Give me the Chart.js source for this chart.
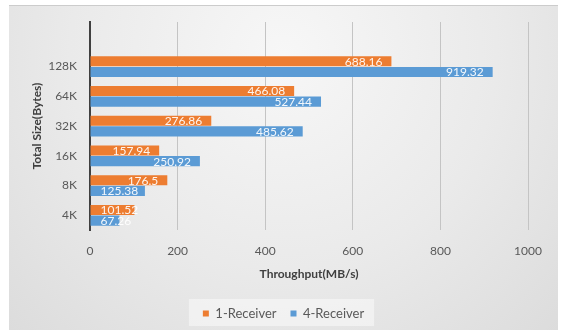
<!DOCTYPE html>
<html>
<head>
<meta charset="utf-8">
<script src="https://cdn.jsdelivr.net/npm/chart.js@4"></script>
<style>
  body { margin: 0; background: #fff; }
  #frame {
    position: absolute; left: 9px; top: 5px; width: 549px; height: 325px;
    background: radial-gradient(ellipse at 50% 15%, #f7f7f7 0%, #eaeaea 55%, #dcdcdc 100%);
    border-top: 1px solid #cccccc;
    box-sizing: border-box;
  }
  canvas { display: block; }
</style>
</head>
<body>
<div id="frame"><canvas id="chart" width="549" height="324"></canvas></div>
<script>
// Chart data

const sizes = ['128K', '64K', '32K', '16K', '8K', '4K'];
const oneReceiver = [688.16, 466.08, 276.86, 157.94, 176.5, 101.52];
const fourReceiver = [919.32, 527.44, 485.62, 250.92, 125.38, 67.26];
const xTicks = [0, 200, 400, 600, 800, 1000];

const orange = '#ED7D31';
const blue = '#5B9BD5';
const textGrey = '#595959';

// blank row on top, like the empty slot in the picture
const labels = [''].concat(sizes);

// Plugin that writes the value at the end of each bar

const valueLabels = {
    id: 'valueLabels',
    afterDatasetsDraw(chart) {
        const ctx = chart.ctx;
        ctx.save();
        ctx.font = '12px Lato';
        ctx.fillStyle = 'rgba(255,255,255,0.92)';
        ctx.textBaseline = 'middle';
        ctx.textAlign = 'left';
        chart.data.datasets.forEach((ds, i) => {
            chart.getDatasetMeta(i).data.forEach((bar, j) => {
                const v = ds.data[j];
                if (v == null) return;
                const txt = String(v);
                const w = ctx.measureText(txt).width;
                let start = bar.x - 9 - w;
                if (start < bar.base + 10) start = bar.base + 10;
                ctx.fillText(txt, start, bar.y + 0.5);
            });
        });
        ctx.restore();
    }
};

// Plugin for the light box behind the legend

const legendBox = {
    id: 'legendBox',
    beforeDraw(chart) {
        const boxes = chart.legend && chart.legend.legendHitBoxes;
        if (!boxes || !boxes.length) return;
        const first = boxes[0];
        const last = boxes[boxes.length - 1];
        const ctx = chart.ctx;
        ctx.save();
        ctx.fillStyle = 'rgba(255,255,255,0.45)';
        ctx.fillRect(first.left - 14, first.top - 8, last.left + last.width - first.left + 24, first.height + 14);
        ctx.restore();
    }
};

const myChart = new Chart(document.getElementById('chart'), {
    type: 'bar',
    data: {
        labels: labels,
        datasets: [{
            label: '1-Receiver',
            data: [null].concat(oneReceiver),
            backgroundColor: orange,
            categoryPercentage: 0.72,
            barPercentage: 0.95
        }, {
            label: '4-Receiver',
            data: [null].concat(fourReceiver),
            backgroundColor: blue,
            categoryPercentage: 0.72,
            barPercentage: 0.95
        }]
    },
    options: {
        indexAxis: 'y',
        responsive: false,
        animation: false,
        events: [],
        layout: {
            padding: { left: 0, right: 0, top: 16, bottom: 0 }
        },
        plugins: {
            tooltip: { enabled: false },
            legend: {
                position: 'bottom',
                labels: {
                    color: textGrey,
                    font: { family: 'Lato', size: 13 },
                    boxWidth: 6,
                    boxHeight: 6,
                    padding: 14
                }
            }
        },
        scales: {
            x: {
                min: 0,
                max: 1000,
                afterBuildTicks: (scale) => {
                    scale.ticks = xTicks.map(v => ({ value: v }));
                },
                afterFit: (scale) => { scale.paddingRight = 30; },
                grid: {
                    color: '#c4c4c4',
                    drawTicks: false
                },
                border: { display: false },
                ticks: {
                    color: textGrey,
                    font: { family: 'Lato', size: 12 },
                    padding: 14,
                    callback: (value) => String(value)
                },
                title: {
                    display: true,
                    text: 'Throughput(MB/s)',
                    color: '#404040',
                    font: { family: 'Lato', size: 12, weight: 'bold' },
                    padding: { top: -6, bottom: 12 }
                }
            },
            y: {
                afterFit: (scale) => { scale.width = 81; },
                grid: { display: false },
                border: { display: true, color: '#404040', width: 2 },
                ticks: {
                    color: textGrey,
                    font: { family: 'Lato', size: 12 },
                    padding: 5
                },
                title: {
                    display: true,
                    text: 'Total Size(Bytes)',
                    color: '#404040',
                    font: { family: 'Lato', size: 12, weight: 'bold' },
                    padding: { top: 21, bottom: 0 }
                }
            }
        }
    },
    plugins: [legendBox, valueLabels]
});
</script>
</body>
</html>
